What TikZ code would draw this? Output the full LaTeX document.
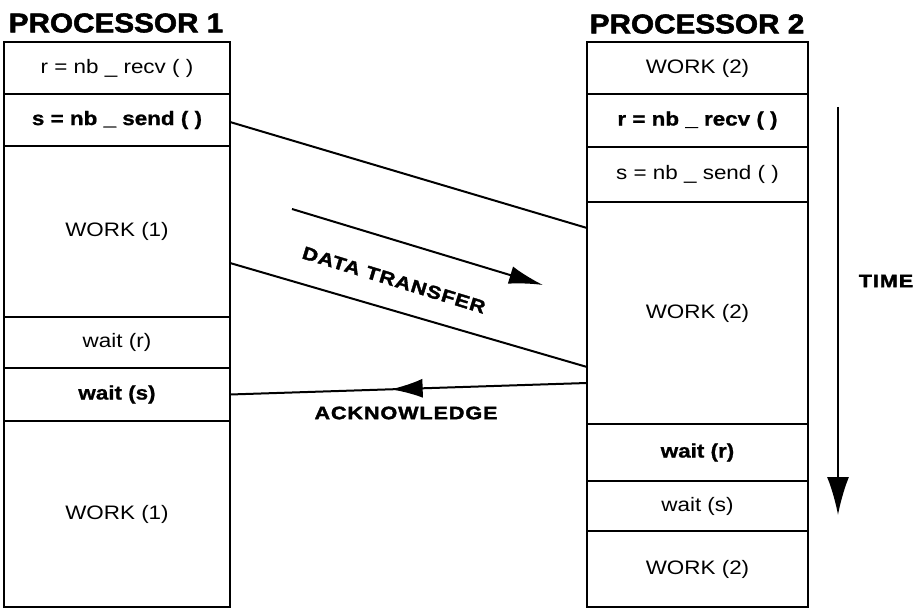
\documentclass[tikz,border=0pt]{standalone}
\usepackage{fontspec}
\usetikzlibrary{arrows.meta,decorations.markings}
\setmainfont{Liberation Sans}
\newfontfamily\boxfont{Liberation Sans}[FakeStretch=1.15, BoldFeatures={FakeBold=1}]
\newfontfamily\titlefont{Liberation Sans}[FakeStretch=1.1, BoldFeatures={FakeBold=2}]
\newfontfamily\labelfont{Liberation Sans}[FakeStretch=1.2, LetterSpace=5, BoldFeatures={FakeBold=2}]
\begin{document}
\begin{tikzpicture}[x=1pt,y=-1pt,
  cell/.style={draw, line width=2.2pt, inner sep=0pt, outer sep=0pt,
    font=\boxfont\fontsize{19.5}{22}\selectfont},
  cellA/.style={cell, minimum width=226pt},
  cellB/.style={cell, minimum width=221pt},
  bcell/.style={font=\boxfont\bfseries\fontsize{19.5}{22}\selectfont},
  title/.style={font=\titlefont\bfseries\fontsize{27}{30}\selectfont, inner sep=0pt},
  lab/.style={font=\labelfont\bfseries\fontsize{18}{20}\selectfont, inner sep=0pt},
  conn/.style={line width=2pt},
  bigarrow/.style={line width=2pt, -{Latex[length=34pt,width=18pt]}}
]
\useasboundingbox (0,0) rectangle (918,609);
\fill[white] (0,0) rectangle (918,609);

% titles
\node[title] (p1) at (116,23) {PROCESSOR 1};
\node[title] (p2) at (697,24) {PROCESSOR 2};

% processor 1 column
\node[cellA, minimum height=52pt] (a1) at (117,68) {r = nb \_ recv ( )};
\node[cellA, bcell, minimum height=52pt] (a2) at (117,120) {s = nb \_ send ( )};
\node[cellA, minimum height=171pt] (a3) at (117,231.5) {WORK (1)};
\node[cellA, minimum height=51pt] (a4) at (117,342.5) {wait (r)};
\node[cellA, bcell, minimum height=53pt] (a5) at (117,394.5) {wait (s)};
\node[cellA, minimum height=186pt] (a6) at (117,514) {WORK (1)};

% processor 2 column
\node[cellB, minimum height=52pt] (b1) at (697.5,68) {WORK (2)};
\node[cellB, bcell, minimum height=53pt] (b2) at (697.5,120.5) {r = nb \_ recv ( )};
\node[cellB, minimum height=55pt] (b3) at (697.5,174.5) {s = nb \_ send ( )};
\node[cellB, minimum height=222pt] (b4) at (697.5,313) {WORK (2)};
\node[cellB, bcell, minimum height=57pt] (b5) at (697.5,452.5) {wait (r)};
\node[cellB, minimum height=50pt] (b6) at (697.5,506) {wait (s)};
\node[cellB, minimum height=76pt] (b7) at (697.5,569) {WORK (2)};

% data transfer band
\draw[conn] ([yshift=-2pt]a2.east) -- ([yshift=-26pt]b4.north west);
\draw[conn] ([yshift=-117pt]a3.north east) -- ([yshift=-165pt]b4.north west);

% data transfer arrow
\coordinate (dt1) at (292,209);
\coordinate (dt2) at (543,285);
\draw[bigarrow] (dt1) -- (dt2);
\node[lab, rotate=-17] (dtl) at (394,280) {DATA TRANSFER};

% acknowledge
\draw[conn, postaction={decorate}, decoration={markings,
  mark=at position 0.55 with {\arrow{Latex[length=32pt,width=19pt]}}}]
  ([yshift=-181pt]b4.north west) -- (a5.east);
\node[lab] (ack) at (406,413) {ACKNOWLEDGE};

% time axis
\coordinate (t1) at (838,107);
\coordinate (t2) at (838,515);
\draw[bigarrow, -{Latex[length=38pt,width=22pt]}] (t1) -- (t2);
\node[lab] (time) at (886,281) {TIME};
\end{tikzpicture}
\end{document}
